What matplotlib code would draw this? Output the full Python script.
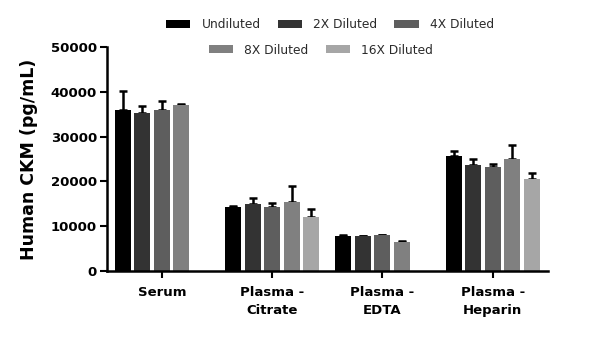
import numpy as np
from matplotlib import pyplot as plt

samples = ['Serum', 'Plasma -\nCitrate', 'Plasma -\nEDTA', 'Plasma -\nHeparin']
dilutions = ['Undiluted', '2X Diluted', '4X Diluted', '8X Diluted', '16X Diluted']
colors = ['#000000', '#333333', '#5e5e5e', '#808080', '#a6a6a6']

# mean values per dilution (nan = not measured)
undiluted = [35900, 14200, 7800, 25600]
dil_2x = [35200, 14900, 7800, 23700]
dil_4x = [36000, 14200, 7950, 23300]
dil_8x = [37000, 15500, 6550, 24900]
dil_16x = [np.nan, 12000, np.nan, 20500]

# upper error (SD)
err_undiluted = [4300, 300, 150, 1100]
err_2x = [1600, 1500, 0, 1400]
err_4x = [1900, 1000, 150, 650]
err_8x = [300, 3400, 100, 3300]
err_16x = [0, 1900, 0, 1300]

means = [undiluted, dil_2x, dil_4x, dil_8x, dil_16x]
errs = [err_undiluted, err_2x, err_4x, err_8x, err_16x]

plt.rcParams['font.family'] = 'DejaVu Sans'
fig = plt.figure(figsize=(6, 3.45), dpi=100)
ax = fig.add_axes([0.178, 0.2145, 0.735, 0.6495])

x = np.arange(len(samples))
width = 0.145
pitch = 0.177
handles = []
for i, (vals, e) in enumerate(zip(means, errs)):
    pos = x + (i - 2) * pitch
    vals = np.array(vals, dtype=float)
    ax.errorbar(pos, vals, yerr=[np.zeros(len(e)), e], fmt='none',
                ecolor='black', elinewidth=1.8, capsize=3, capthick=1.8, zorder=1)
    bars = ax.bar(pos, vals, width=width, color=colors[i], zorder=2)
    handles.append(bars)

ax.set_xlim(-0.5, 3.5)
ax.set_ylim(0, 50000)
ax.set_yticks(np.arange(0, 50001, 10000))
ax.set_xticks(x)
ax.set_xticklabels(samples, fontsize=9.5, fontweight='bold', linespacing=1.45)
for lbl in ax.get_yticklabels():
    lbl.set_fontweight('bold')
    lbl.set_fontsize(9.5)
ax.set_ylabel('Human CKM (pg/mL)', fontsize=12.5, fontweight='bold', labelpad=9)

for s in ['top', 'right']:
    ax.spines[s].set_visible(False)
for s in ['left', 'bottom']:
    ax.spines[s].set_linewidth(1.8)
ax.tick_params(axis='y', width=1.5, length=5, pad=2)
ax.tick_params(axis='x', width=1.5, length=5, pad=6)

leg_kw = dict(loc='center', frameon=False, fontsize=8.8, handlelength=2.0,
              handleheight=0.65, columnspacing=1.4, handletextpad=0.9)
leg1 = fig.legend(handles[:3], dilutions[:3], bbox_to_anchor=(0.55, 0.928), ncol=3, **leg_kw)
leg2 = fig.legend(handles[3:], dilutions[3:], bbox_to_anchor=(0.535, 0.855), ncol=2, **leg_kw)
for leg in (leg1, leg2):
    for t in leg.get_texts():
        t.set_color('#2a2a2a')

fig.savefig('out.png', dpi=100)
